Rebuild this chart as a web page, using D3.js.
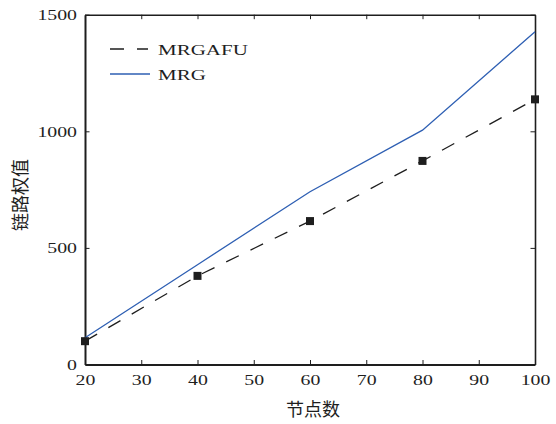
<!DOCTYPE html>
<html>
<head>
<meta charset="utf-8">
<script src="https://cdn.jsdelivr.net/npm/d3@7"></script>
<style>
  html, body { margin: 0; padding: 0; background: #fff; }
  svg { display: block; }
</style>
</head>
<body>
<div id="vis"></div>
<script>
// chart values
const nodes = [20, 40, 60, 80, 100];
const mrgafu = [100, 380, 615, 873, 1137];
const mrg = [115, 428, 741, 1005, 1427];
const xTicks = [20, 30, 40, 50, 60, 70, 80, 90, 100];
const yTicks = [0, 500, 1000, 1500];
const seriesNames = ['MRGAFU', 'MRG'];
const xTitle = '节点数';
const yTitle = '链路权值';

const width = 556;
const height = 424;
const margin = { top: 14.7, right: 21, bottom: 59.5, left: 85 };
const ink = '#1e1e1e';
const blue = '#2e5fb3';
const serif = '"Liberation Serif", "Times New Roman", serif';
const cjk = '"Noto Sans CJK SC", sans-serif';
const stretch = 1.32; // reference text is wider than it is tall

const svg = d3.select('#vis')
  .append('svg')
  .attr('width', width)
  .attr('height', height);

const x = d3.scaleLinear([20, 100], [margin.left, width - margin.right]);
const y = d3.scaleLinear([0, 1500], [height - margin.bottom, margin.top]);

const styleAxis = (g, lw) => {
  g.select('.domain').attr('stroke', ink).attr('stroke-width', lw);
  g.selectAll('.tick line').attr('stroke', ink).attr('stroke-width', 1);
  g.selectAll('text')
    .attr('fill', ink)
    .style('font-family', serif)
    .style('font-size', '15px');
};

// box: top and right, ticks only
svg.append('g')
  .attr('transform', `translate(0,${margin.top})`)
  .call(d3.axisTop(x).tickValues(xTicks).tickSizeInner(-4.5).tickSizeOuter(0).tickFormat(''))
  .call(g => styleAxis(g, 1.6));

svg.append('g')
  .attr('transform', `translate(${width - margin.right},0)`)
  .call(d3.axisRight(y).tickValues(yTicks).tickSizeInner(-4.5).tickSizeOuter(0).tickFormat(''))
  .call(g => styleAxis(g, 1.6));

// bottom axis
svg.append('g')
  .attr('transform', `translate(0,${height - margin.bottom})`)
  .call(d3.axisBottom(x).tickValues(xTicks).tickSizeInner(-4.5).tickSizeOuter(0)
    .tickPadding(9.5).tickFormat(d3.format('d')))
  .call(g => styleAxis(g, 2))
  .call(g => g.selectAll('text').attr('transform', `scale(${stretch},1)`));

// left axis
svg.append('g')
  .attr('transform', `translate(${margin.left},0)`)
  .call(d3.axisLeft(y).tickValues(yTicks).tickSizeInner(-4.5).tickSizeOuter(0)
    .tickFormat(d3.format('d')))
  .call(g => styleAxis(g, 2))
  .call(g => g.selectAll('text')
    .attr('x', -8 / stretch)
    .attr('transform', `scale(${stretch},1)`));

const line = d3.line()
  .x(d => x(d[0]))
  .y(d => y(d[1]));

// MRG solid blue
svg.append('path')
  .datum(nodes.map((n, i) => [n, mrg[i]]))
  .attr('d', line)
  .attr('fill', 'none')
  .attr('stroke', blue)
  .attr('stroke-width', 1.3);

// MRGAFU dashed black with square markers
const afu = nodes.map((n, i) => [n, mrgafu[i]]);
svg.append('path')
  .datum(afu)
  .attr('d', line)
  .attr('fill', 'none')
  .attr('stroke', ink)
  .attr('stroke-width', 1.3)
  .attr('stroke-dasharray', '14,13');

svg.selectAll('rect.marker')
  .data(afu)
  .enter()
  .append('rect')
  .attr('class', 'marker')
  .attr('x', d => x(d[0]) - 4)
  .attr('y', d => y(d[1]) - 4)
  .attr('width', 8)
  .attr('height', 8)
  .attr('fill', ink);

// legend
const legend = svg.append('g').attr('transform', 'translate(110,49)');
seriesNames.forEach((name, i) => {
  const row = legend.append('g').attr('transform', `translate(0,${i * 25})`);
  row.append('line')
    .attr('x1', 0).attr('x2', i === 0 ? 38 : 40)
    .attr('y1', 0).attr('y2', 0)
    .attr('stroke', i === 0 ? ink : blue)
    .attr('stroke-width', 1.3)
    .attr('stroke-dasharray', i === 0 ? '14,13' : null);
  row.append('text')
    .attr('transform', `translate(48,5.5) scale(1.4,1)`)
    .text(name)
    .attr('fill', ink)
    .style('font-family', serif)
    .style('font-size', '15px');
});

// axis titles
svg.append('text')
  .attr('x', 313)
  .attr('y', 416)
  .text(xTitle)
  .attr('fill', ink)
  .style('font-family', cjk)
  .style('font-size', '18px')
  .style('text-anchor', 'middle');

svg.append('text')
  .attr('transform', 'translate(27,195) rotate(-90)')
  .text(yTitle)
  .attr('fill', ink)
  .style('font-family', cjk)
  .style('font-size', '18px')
  .style('text-anchor', 'middle');
</script>
</body>
</html>
